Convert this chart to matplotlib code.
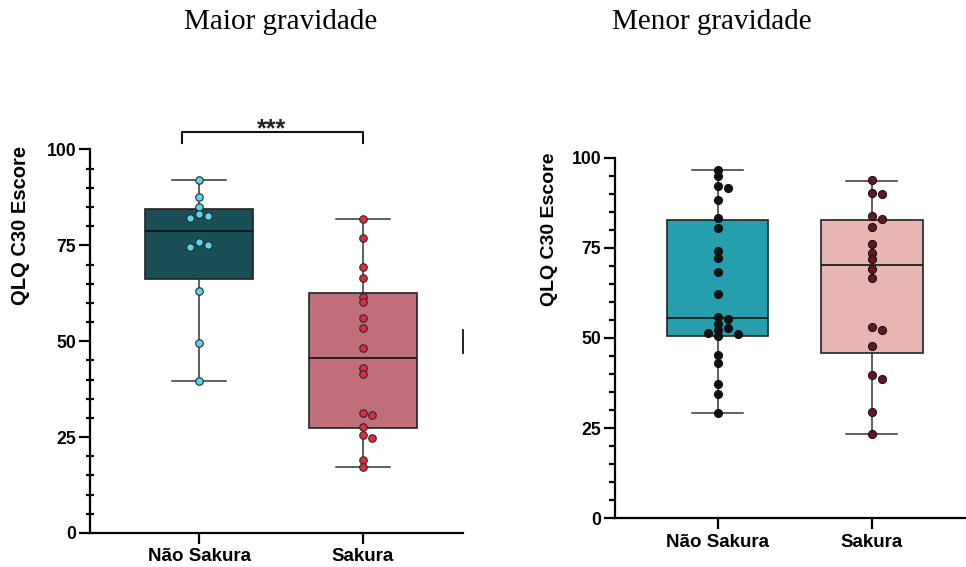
import matplotlib
matplotlib.use("Agg")
import matplotlib.pyplot as plt
import numpy as np
from matplotlib.ticker import MultipleLocator

plt.rcParams['font.family'] = ['Liberation Sans', 'DejaVu Sans']

groups = ['Não Sakura', 'Sakura']

# Maior gravidade
maior_nao = [92.0, 87.7, 84.9, 83.2, 82.7, 82.0, 75.8, 75.1, 74.5, 63.2, 49.6, 39.7]
maior_sak = [81.9, 76.8, 69.3, 66.6, 61.5, 60.1, 56.0, 53.5, 48.2, 43.1, 41.5,
             31.4, 30.8, 27.6, 25.6, 24.7, 18.9, 17.3]
# box stats: whislo, q1, median, q3, whishi
maior_box = [[39.7, 66.3, 78.8, 84.4, 92.0],
             [17.3, 27.3, 45.5, 62.5, 81.9]]

# Menor gravidade
menor_nao = [96.6, 94.9, 92.1, 91.7, 88.2, 83.4, 80.6, 74.2, 72.3, 68.4, 62.1,
             55.9, 55.3, 53.8, 52.7, 52.2, 51.3, 51.2, 50.5, 45.4, 43.2, 37.2, 34.4, 29.1]
menor_sak = [93.8, 90.3, 89.8, 83.8, 82.9, 80.7, 76.0, 73.5, 71.8, 69.0, 66.5,
             53.1, 52.1, 47.9, 39.7, 38.6, 29.6, 23.4]
menor_box = [[29.2, 50.6, 55.6, 82.6, 96.5],
             [23.4, 45.9, 70.3, 82.8, 93.6]]


def swarm_offsets(ax, vals, diam_px):
    # simple beeswarm: place points top-down, shift sideways when they collide
    vals = np.asarray(vals, dtype=float)
    x0 = ax.transData.transform((0, 0))[0]
    x1 = ax.transData.transform((1, 0))[0]
    ypx = np.array([ax.transData.transform((0, v))[1] for v in vals])
    px_per_x = x1 - x0
    placed = []
    offs = np.zeros(len(vals))
    step = diam_px * 1.25
    for i in np.argsort(-vals):
        for k in [0, 1, -1, 2, -2, 3, -3]:
            dx = k * step
            ok = all((dx - pdx) ** 2 + (ypx[i] - py) ** 2 >= (diam_px * 0.7) ** 2
                     for pdx, py in placed)
            if ok:
                break
        placed.append((dx, ypx[i]))
        offs[i] = dx / px_per_x
    return offs


def panel(ax, box, pts, box_cols, pt_cols, pt_edge, msize, minor_dir, minor_len):
    ax.set_xlim(-0.665, 1.61)
    ax.set_ylim(0, 100)
    stats = []
    for b in box:
        stats.append(dict(whislo=b[0], q1=b[1], med=b[2], q3=b[3], whishi=b[4], fliers=[]))
    bp = ax.bxp(stats, positions=[0, 1], widths=0.66, patch_artist=True,
                showfliers=False,
                boxprops=dict(linewidth=1.2, edgecolor='#222222'),
                medianprops=dict(color='#111111', linewidth=1.2),
                whiskerprops=dict(color='#333333', linewidth=1.1),
                capprops=dict(color='#333333', linewidth=1.1),
                capwidths=0.33)
    for patch, c in zip(bp['boxes'], box_cols):
        patch.set_facecolor(c)
    for i, (vals, c) in enumerate(zip(pts, pt_cols)):
        offs = swarm_offsets(ax, vals, msize)
        ax.scatter(i + offs, vals, s=(msize * 0.72) ** 2, color=c,
                   edgecolors=pt_edge, linewidths=0.8, zorder=5, clip_on=False)
    ax.spines['top'].set_visible(False)
    ax.spines['right'].set_visible(False)
    ax.spines['left'].set_linewidth(1.6)
    ax.spines['bottom'].set_linewidth(1.6)
    ax.set_xticks([0, 1])
    ax.set_xticklabels(groups, fontsize=13.5, fontweight='bold')
    ax.set_yticks([0, 25, 50, 75, 100])
    ax.set_yticklabels(['0', '25', '50', '75', '100'], fontsize=12.7, fontweight='bold')
    ax.yaxis.set_minor_locator(MultipleLocator(5))
    ax.tick_params(axis='both', which='major', length=8, width=1.6, pad=2)
    ax.tick_params(axis='x', which='major', pad=3)
    ax.tick_params(axis='y', which='minor', direction=minor_dir, length=minor_len, width=1.6)


fig = plt.figure(figsize=(9.66, 5.67), dpi=100)
ax1 = fig.add_axes([0.0932, 0.06, 0.386, 0.6764])
ax2 = fig.add_axes([0.6366, 0.0859, 0.3634, 0.636])

panel(ax1, maior_box, [maior_nao, maior_sak], ['#1b4f57', '#c06f7a'],
      ['#62d4ea', '#e8293d'], '#1c2a30', 7.5, 'inout', 6)
panel(ax2, menor_box, [menor_nao, menor_sak], ['#259fae', '#e8b6b2'],
      ['#111111', '#6b1424'], '#111111', 8, 'out', 4)

# significance bracket
ax1.plot([-0.105, -0.105, 1.0, 1.0], [101.8, 104.5, 104.5, 101.8],
         color='#111111', linewidth=1.5, clip_on=False)
ax1.text(0.44, 102.0, '***', ha='center', va='bottom', fontsize=18,
         fontweight='bold', color='#222222')

# small stray line at the right end of the left panel
ax1.plot([1.0, 1.0], [0.469, 0.529], transform=ax1.transAxes, color='#111111',
         linewidth=1.3, clip_on=False)

fig.text(0.021, 0.603, 'QLQ C30 Escore', rotation=90, ha='center', va='center',
         fontsize=14.5, fontweight='bold')
fig.text(0.569, 0.596, 'QLQ C30 Escore', rotation=90, ha='center', va='center',
         fontsize=14, fontweight='bold')

fig.text(0.29, 0.962, 'Maior gravidade', ha='center', va='center',
         fontsize=21, family='Liberation Serif')
fig.text(0.737, 0.962, 'Menor gravidade', ha='center', va='center',
         fontsize=21, family='Liberation Serif')

fig.savefig('out.png', dpi=100)
